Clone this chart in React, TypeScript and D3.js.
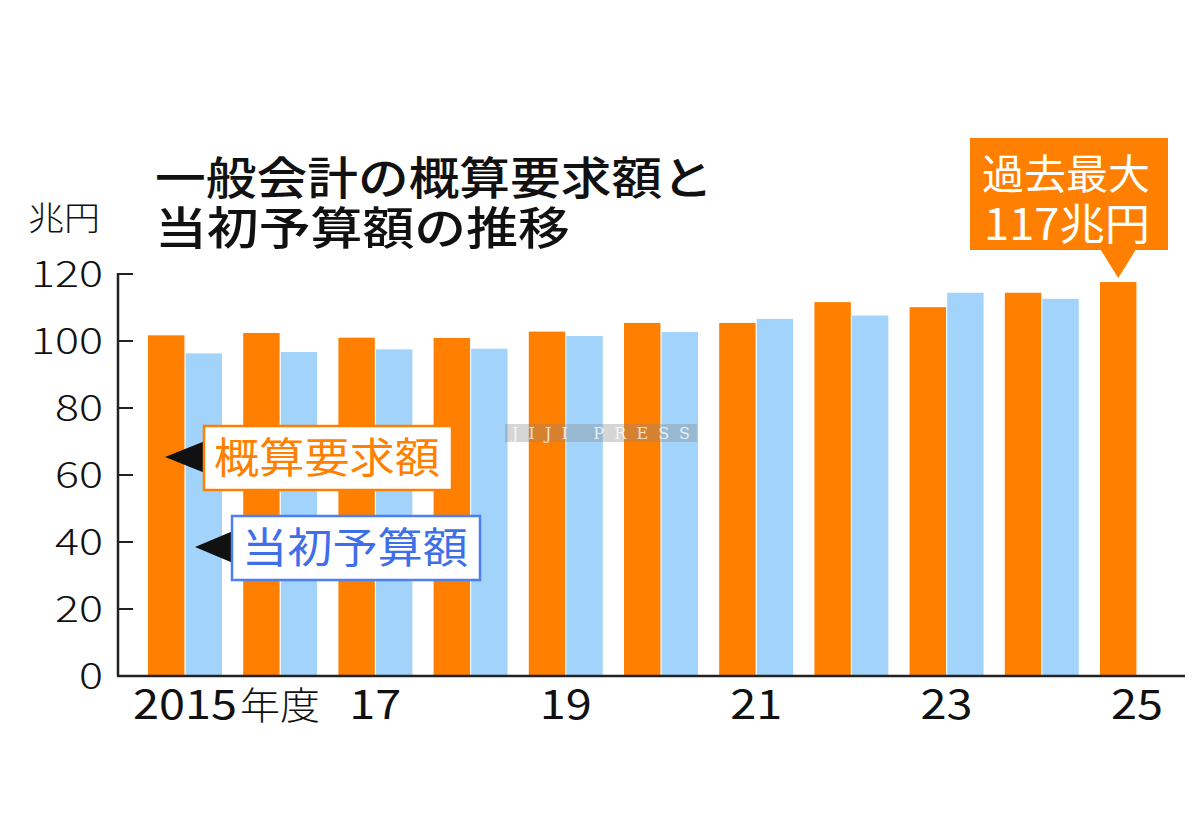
import React from "react";
import * as d3 from "d3";

const years = [2015, 2016, 2017, 2018, 2019, 2020, 2021, 2022, 2023, 2024, 2025];
const requestValues = [101.7, 102.4, 101.0, 100.9, 102.8, 105.4, 105.4, 111.6, 110.1, 114.4, 117.6];
const budgetValues: (number | null)[] = [96.3, 96.7, 97.5, 97.7, 101.5, 102.7, 106.6, 107.6, 114.4, 112.6, null];
const yTicks = [0, 20, 40, 60, 80, 100, 120];
const xLabels: { year: number; text: string }[] = [
  { year: 2015, text: "2015" },
  { year: 2017, text: "17" },
  { year: 2019, text: "19" },
  { year: 2021, text: "21" },
  { year: 2023, text: "23" },
  { year: 2025, text: "25" },
];
const titleLines = ["一般会計の概算要求額と", "当初予算額の推移"];
const unitLabel = "兆円";
const requestLabel = "概算要求額";
const budgetLabel = "当初予算額";
const calloutLines = ["過去最大", "117兆円"];

const ORANGE = "#ff7f00";
const BLUE = "#a2d3fb";
const FONT = "'Noto Sans CJK JP', 'Noto Sans', sans-serif";

export default function App() {
  const W = 1200, H = 839;
  const y = d3.scaleLinear().domain([0, 120]).range([676, 274]);
  const step = 95.2;
  const x = d3
    .scaleBand<number>()
    .domain(years)
    .range([148, 148 + step * (years.length - 0.223)])
    .paddingInner(0.223)
    .paddingOuter(0);
  const sub = d3
    .scaleBand<string>()
    .domain(["req", "bud"])
    .range([0, x.bandwidth()])
    .paddingInner(0.03);

  const axisX = 118;
  const last = years[years.length - 1];
  const calloutCx = (x(last) as number) + sub("req")! + sub.bandwidth() / 2;
  const calloutTipY = y(requestValues[requestValues.length - 1]) - 4;

  return (
    <svg width={W} height={H} style={{ display: "block", position: "absolute", left: 0, top: 0, background: "#fff" }}>
      <rect x={0} y={0} width={W} height={H} fill="#fff" />
      {/* title */}
      <text x={155} y={195} fontFamily={FONT} fontWeight={500} fontSize={45} fill="#111" textLength={558} lengthAdjust="spacingAndGlyphs">{titleLines[0]}</text>
      <text x={155} y={245} fontFamily={FONT} fontWeight={500} fontSize={45} fill="#111" textLength={415} lengthAdjust="spacingAndGlyphs">{titleLines[1]}</text>
      <text x={28} y={230} fontFamily={FONT} fontWeight={300} fontSize={33} fill="#111" textLength={72} lengthAdjust="spacingAndGlyphs">{unitLabel}</text>

      {/* bars */}
      {years.map((yr, i) => {
        const gx = x(yr) as number;
        const b = budgetValues[i];
        return (
          <g key={yr}>
            <rect x={gx + sub("req")!} y={y(requestValues[i])} width={sub.bandwidth()} height={y(0) - y(requestValues[i])} fill={ORANGE} />
            {b != null && (
              <rect x={gx + sub("bud")!} y={y(b)} width={sub.bandwidth()} height={y(0) - y(b)} fill={BLUE} />
            )}
          </g>
        );
      })}

      {/* watermark */}
      <rect x={505} y={424} width={192} height={18} fill="#888" opacity={0.35} />
      <text x={512} y={439} fontFamily="'DejaVu Serif', serif" fontSize={16} fill="#fff" opacity={0.75} textLength={178} lengthAdjust="spacing">JIJI PRESS</text>

      {/* axes */}
      <line x1={axisX} x2={axisX} y1={y(120) - 1} y2={y(0)} stroke="#222" strokeWidth={2.5} />
      <line x1={axisX - 1} x2={1185} y1={y(0)} y2={y(0)} stroke="#222" strokeWidth={2.5} />
      {yTicks.map((t) => {
        const s = String(t);
        return (
          <g key={t}>
            {t > 0 && <line x1={axisX} x2={axisX + 15} y1={y(t)} y2={y(t)} stroke="#222" strokeWidth={2} />}
            <text x={103} y={y(t) + 13} textAnchor="end" fontFamily={FONT} fontWeight={300} fontSize={36} fill="#111" textLength={s.length * 24} lengthAdjust="spacingAndGlyphs">{s}</text>
          </g>
        );
      })}
      {xLabels.map((l) => {
        const cx = (x(l.year) as number) + x.bandwidth() / 2;
        const len = l.text.length * 26;
        return (
          <g key={l.year}>
            <text x={cx - len / 2} y={719} fontFamily={FONT} fontWeight={400} fontSize={41} fill="#111" textLength={len} lengthAdjust="spacingAndGlyphs">{l.text}</text>
            {l.year === 2015 && (
              <text x={cx + len / 2 + 3} y={719} fontFamily={FONT} fontWeight={300} fontSize={38} fill="#111" textLength={80} lengthAdjust="spacingAndGlyphs">年度</text>
            )}
          </g>
        );
      })}

      {/* legend callouts */}
      <polygon points="165,457 205,441 205,473" fill="#111" />
      <rect x={204} y={426} width={248} height={64} fill="#fff" stroke={ORANGE} strokeWidth={2.5} />
      <text x={214} y={473} fontFamily={FONT} fontWeight={400} fontSize={42} fill={ORANGE} textLength={226} lengthAdjust="spacingAndGlyphs">{requestLabel}</text>

      <polygon points="195,547 233,531 233,563" fill="#111" />
      <rect x={232} y={516} width={248} height={64} fill="#fff" stroke="#4b7ff2" strokeWidth={2.5} />
      <text x={242} y={563} fontFamily={FONT} fontWeight={400} fontSize={42} fill="#3f6fe8" textLength={226} lengthAdjust="spacingAndGlyphs">{budgetLabel}</text>

      {/* max callout */}
      <rect x={970} y={138} width={198} height={112} fill={ORANGE} />
      <polygon points={`${calloutCx - 18},249 ${calloutCx + 18},249 ${calloutCx},${calloutTipY}`} fill={ORANGE} />
      <text x={982} y={189} fontFamily={FONT} fontWeight={400} fontSize={41} fill="#fff" textLength={168} lengthAdjust="spacingAndGlyphs">{calloutLines[0]}</text>
      <text x={984} y={240} fontFamily={FONT} fontWeight={400} fontSize={43} fill="#fff" textLength={166} lengthAdjust="spacingAndGlyphs">{calloutLines[1]}</text>
    </svg>
  );
}
